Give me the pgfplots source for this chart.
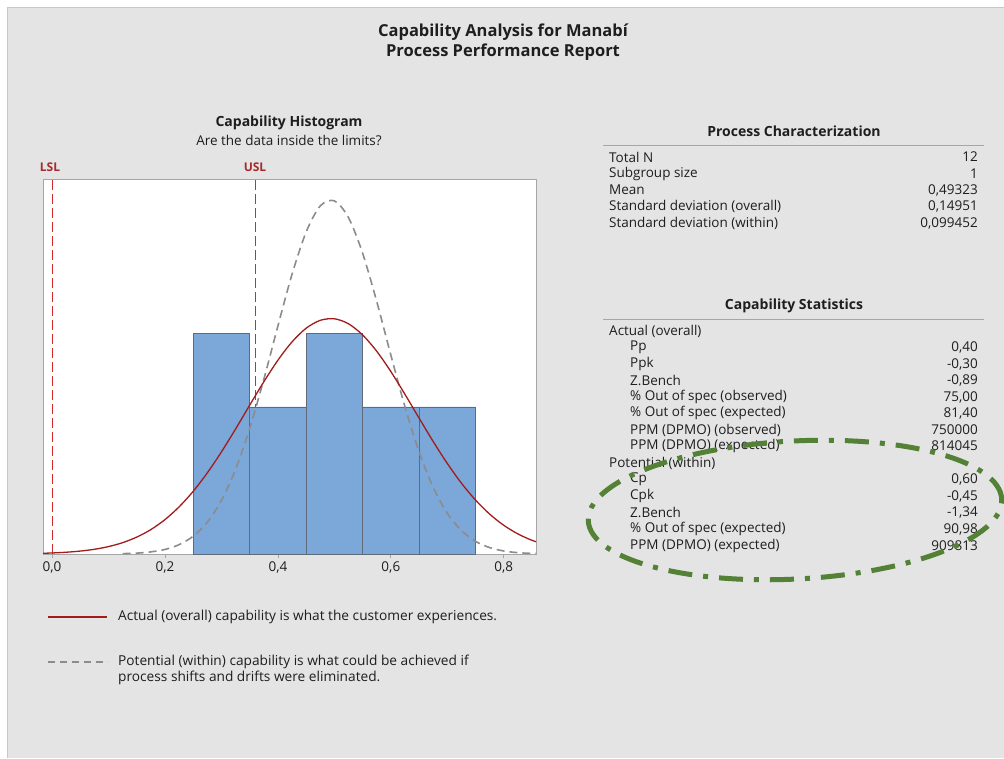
\documentclass[border=0pt]{standalone}
\usepackage{pgfplots}
\pgfplotsset{compat=1.18}
\usepackage{fontspec}
\setmainfont{Open Sans}
\definecolor{bgc}{HTML}{E4E4E4}
\definecolor{borderc}{HTML}{C8C8C8}
\definecolor{barc}{HTML}{7BA7D9}
\definecolor{baredge}{HTML}{5F6B7A}
\definecolor{redc}{HTML}{A21C1C}
\definecolor{lslc}{HTML}{D42A2A}
\definecolor{lsltxt}{HTML}{A52A2A}
\definecolor{grayc}{HTML}{8C8C8C}
\definecolor{axiscol}{HTML}{A6A6A6}
\definecolor{txt}{HTML}{1E1E1E}
\definecolor{greenc}{HTML}{538135}
\newcommand{\fs}[1]{\fontsize{#1}{#1}\selectfont}
\begin{document}
\begin{tikzpicture}
\begin{scope}[x=1pt,y=-1pt]
\useasboundingbox (0,0) rectangle (1004,758);
\fill[white] (0,0) rectangle (1004,758);
\fill[bgc] (7,7) rectangle (1004,758);
\draw[borderc, line width=1pt] (7,758) -- (7,7) -- (1004,7);
% titles
\node[text=txt, font=\fs{16.5}\bfseries] at (503,32) {Capability Analysis for Manabí};
\node[text=txt, font=\fs{16.5}\bfseries] at (503,52) {Process Performance Report};
\node[text=txt, font=\fs{14}\bfseries] at (289,123) {Capability Histogram};
\node[text=txt, font=\fs{13.5}] at (289,140) {Are the data inside the limits?};
\node[text=lsltxt, font=\fs{12}\bfseries] at (50,167) {LSL};
\node[text=lsltxt, font=\fs{12}\bfseries] at (255,167) {USL};
% legend
\draw[redc, line width=1.5pt] (48,617) -- (107,617);
\node[text=txt, font=\fs{13.7}, anchor=west, inner sep=0pt] at (118,617) {Actual (overall) capability is what the customer experiences.};
\draw[grayc, line width=1.5pt, dash pattern=on 7pt off 5pt] (48,662) -- (108,662);
\node[text=txt, font=\fs{13.7}, anchor=west, inner sep=0pt] at (118,662) {Potential (within) capability is what could be achieved if};
\node[text=txt, font=\fs{13.7}, anchor=west, inner sep=0pt] at (118,678) {process shifts and drifts were eliminated.};
% Process characterization
\node[text=txt, font=\fs{14}\bfseries] at (794,131) {Process Characterization};
\draw[axiscol, line width=1pt] (603,145) -- (984,145);
\foreach \y/\l/\v in {157/Total N/12, 174/Subgroup size/1, 190/Mean/{0,49323}, 206/Standard deviation (overall)/{0,14951}, 223/Standard deviation (within)/{0,099452}} {
  \node[text=txt, font=\fs{13.5}, anchor=west, inner sep=0pt] at (609,\y) {\l};
  \node[text=txt, font=\fs{13.5}, anchor=east, inner sep=0pt] at (978,\y) {\v};
}
% Capability statistics
\node[text=txt, font=\fs{14}\bfseries] at (794,306) {Capability Statistics};
\draw[axiscol, line width=1pt] (603,319) -- (984,319);
\node[text=txt, font=\fs{13.5}, anchor=west, inner sep=0pt] at (609,331) {Actual (overall)};
\node[text=txt, font=\fs{13.5}, anchor=west, inner sep=0pt] at (609,463) {Potential (within)};
\foreach \y/\l/\v in {347/Pp/{0,40}, 364/Ppk/{-0,30}, 380/Z.Bench/{-0,89}, 397/\% Out of spec (observed)/{75,00}, 413/\% Out of spec (expected)/{81,40}, 430/PPM (DPMO) (observed)/750000, 446/PPM (DPMO) (expected)/814045, 479/Cp/{0,60}, 496/Cpk/{-0,45}, 512/Z.Bench/{-1,34}, 529/\% Out of spec (expected)/{90,98}, 546/PPM (DPMO) (expected)/909813} {
  \node[text=txt, font=\fs{13.5}, anchor=west, inner sep=0pt] at (630,\y) {\l};
  \node[text=txt, font=\fs{13.5}, anchor=east, inner sep=0pt] at (978,\y) {\v};
}
% green annotation ellipse
\draw[greenc, line width=5pt, dash pattern=on 24pt off 11pt on 5pt off 11pt, rotate around={3:(795,510)}] (795,510) ellipse [x radius=207pt, y radius=69pt];
\end{scope}
\begin{axis}[
  at={(43pt,-554pt)}, anchor=south west,
  scale only axis, width=493pt, height=375pt,
  xmin=-0.016, xmax=0.857, ymin=0, ymax=5.1,
  axis background/.style={fill=white},
  axis line style={axiscol, line width=1pt},
  ytick=\empty,
  xtick={0,0.2,0.4,0.6,0.8},
  xtick pos=bottom, tick align=outside,
  major tick length=4pt,
  tick style={axiscol, line width=0.8pt},
  xticklabel style={font=\fs{13.5}, text=txt},
  /pgf/number format/.cd, use comma, fixed, fixed zerofill, precision=1, assume math mode=true
]
\addplot[color=lslc, line width=1pt, dash pattern=on 10pt off 4pt] coordinates {(0,0) (0,5.1)};
\addplot[color=lslc, line width=1pt, dash pattern=on 10pt off 4pt] coordinates {(0.36,0) (0.36,5.1)};
\addplot[ybar interval, fill=barc, draw=baredge, line width=0.8pt] coordinates {(0.25,3) (0.35,2) (0.45,3) (0.55,2) (0.65,2) (0.75,2)};
\addplot[grayc, line width=1.6pt, dash pattern=on 8pt off 5pt, smooth] coordinates {
(0.125,0.005) (0.15,0.012) (0.175,0.029) (0.2,0.062) (0.225,0.127) (0.25,0.242) (0.275,0.433) (0.3,0.729) (0.325,1.151) (0.35,1.707) (0.375,2.375) (0.4,3.102) (0.425,3.805) (0.45,4.380) (0.475,4.734) (0.5,4.803) (0.525,4.575) (0.55,4.090) (0.575,3.433) (0.6,2.705) (0.625,2.001) (0.65,1.390) (0.675,0.906) (0.7,0.554) (0.725,0.319) (0.75,0.172) (0.775,0.087) (0.8,0.041) (0.825,0.018) (0.85,0.008) (0.875,0.003)};
\addplot[redc, line width=1.3pt, smooth] coordinates {
(-0.025,0.008) (0,0.014) (0.025,0.024) (0.05,0.040) (0.075,0.064) (0.1,0.101) (0.125,0.154) (0.15,0.230) (0.175,0.332) (0.2,0.468) (0.225,0.641) (0.25,0.853) (0.275,1.104) (0.3,1.389) (0.325,1.700) (0.35,2.024) (0.375,2.342) (0.4,2.636) (0.425,2.885) (0.45,3.071) (0.475,3.178) (0.5,3.199) (0.525,3.131) (0.55,2.979) (0.575,2.757) (0.6,2.481) (0.625,2.171) (0.65,1.848) (0.675,1.529) (0.7,1.231) (0.725,0.963) (0.75,0.733) (0.775,0.542) (0.8,0.390) (0.825,0.273) (0.85,0.186) (0.875,0.123)};
\end{axis}
\end{tikzpicture}
\end{document}
